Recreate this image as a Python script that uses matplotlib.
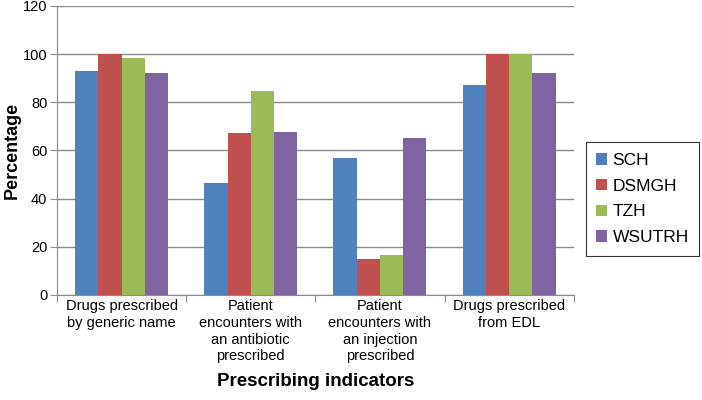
import numpy as np
import matplotlib
matplotlib.use("Agg")
import matplotlib.pyplot as plt

plt.rcParams['font.family'] = ['Liberation Sans', 'DejaVu Sans']

# categories and values
categories = ["Drugs prescribed\nby generic name",
              "Patient\nencounters with\nan antibiotic\nprescribed",
              "Patient\nencounters with\nan injection\nprescribed",
              "Drugs prescribed\nfrom EDL"]
sch = [93.1, 46.5, 57.0, 87.3]
dsmgh = [100, 67.3, 14.9, 100]
tzh = [98.3, 84.8, 16.5, 100]
wsutrh = [92.3, 67.6, 65.2, 92.3]
series_names = ["SCH", "DSMGH", "TZH", "WSUTRH"]
colors = ["#4F81BD", "#C0504D", "#9BBB59", "#8064A2"]

fig = plt.figure(figsize=(7.02, 4.0), dpi=100)
ax = fig.add_axes([0.0812, 0.2625, 0.736, 0.7225])

x = np.arange(len(categories))
width = 0.18
for i, (vals, name, c) in enumerate(zip([sch, dsmgh, tzh, wsutrh], series_names, colors)):
    ax.bar(x + (i - 1.5) * width, vals, width, color=c, label=name, zorder=3)

ax.set_xlim(-0.5, 3.5)
ax.set_ylim(0, 120)
ax.set_yticks(range(0, 121, 20))
ax.yaxis.grid(True, color="#8c8c8c", linewidth=1, zorder=0)

# category boundaries as ticks, labels at centres
ax.set_xticks(np.arange(-0.5, 4, 1))
ax.set_xticklabels([])
ax.set_xticks(x, minor=True)
ax.set_xticklabels(categories, minor=True, fontsize=10.5, linespacing=1.25)
ax.tick_params(axis="x", which="minor", length=0, pad=3)
ax.tick_params(axis="x", which="major", length=5, color="#8c8c8c")
ax.tick_params(axis="y", length=5, color="#8c8c8c", labelsize=10.5, pad=2)

for s in ["top", "right"]:
    ax.spines[s].set_visible(False)
for s in ["left", "bottom"]:
    ax.spines[s].set_color("#8c8c8c")

fig.text(12 / 702, 0.625, "Percentage", fontsize=13, fontweight="bold",
         rotation=90, ha="center", va="center")
fig.text(0.0812 + 0.736 / 2, 1 - 382 / 400, "Prescribing indicators",
         fontsize=13.5, fontweight="bold", ha="center", va="center")

leg = ax.legend(loc="center left", bbox_to_anchor=(1.023, 0.332), fontsize=12.5,
                frameon=True, fancybox=False, edgecolor="black",
                handlelength=0.65, handleheight=0.65, handletextpad=0.3,
                borderpad=0.6, labelspacing=0.62, borderaxespad=0)
leg.get_frame().set_linewidth(0.8)

plt.savefig("out.png", dpi=100)
plt.close()
